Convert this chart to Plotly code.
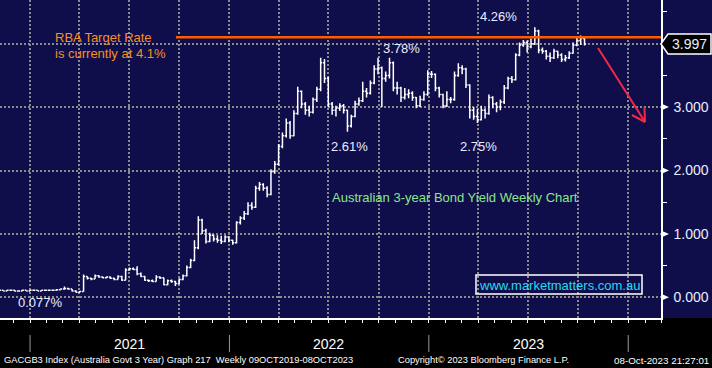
import pandas as pd
import plotly.graph_objects as go

# ---------------- data (weekly OHLC, Australian 3-year govt bond yield) -------------
dates = pd.date_range("2020-11-06", periods=154, freq="7D")

opens = [0.11,0.11,0.10,0.11,0.11,0.10,0.10,0.11,0.10,0.11,0.11,0.10,0.11,0.11,0.11,0.11,0.12,0.13,0.14,0.13,
         0.10,0.08,0.09,0.33,0.30,0.29,0.34,0.32,0.31,0.32,0.30,0.28,0.33,0.27,0.43,0.45,0.44,0.37,0.33,0.27,
         0.26,0.25,0.32,0.31,0.20,0.26,0.25,0.22,0.28,0.34,0.47,0.58,0.78,1.22,1.05,0.88,0.98,0.92,0.90,0.88,
         0.95,0.90,0.86,1.18,1.25,1.32,1.45,1.42,1.72,1.78,1.72,1.62,1.98,2.10,2.38,2.55,2.75,2.55,2.90,3.25,
         3.05,2.95,2.92,3.12,3.28,3.70,3.45,3.05,2.95,2.98,3.02,2.95,2.70,2.85,3.05,3.10,3.25,3.22,3.38,3.60,
         3.62,3.45,3.50,3.70,3.30,3.30,3.15,3.20,3.22,3.15,3.02,3.12,3.20,3.52,3.52,3.30,3.20,3.02,3.12,3.12,
         3.50,3.62,3.60,3.35,2.95,2.85,2.80,2.95,2.90,3.15,3.05,3.00,3.08,3.30,3.45,3.43,3.82,3.98,4.02,3.95,
         4.00,4.20,3.90,3.88,3.80,3.78,3.88,3.82,3.75,3.78,3.85,3.98,4.05,4.08]
highs = [0.12,0.11,0.12,0.12,0.11,0.11,0.12,0.11,0.12,0.11,0.11,0.11,0.12,0.11,0.12,0.13,0.14,0.17,0.15,0.13,
         0.11,0.10,0.36,0.33,0.31,0.36,0.35,0.33,0.33,0.33,0.31,0.35,0.34,0.46,0.47,0.47,0.49,0.39,0.34,0.28,
         0.28,0.35,0.33,0.31,0.28,0.28,0.26,0.30,0.36,0.50,0.61,0.90,1.28,1.24,1.08,1.02,0.99,0.98,0.97,0.98,
         0.96,0.91,1.20,1.28,1.36,1.50,1.50,1.76,1.82,1.80,1.75,2.02,2.15,2.42,2.60,2.82,2.78,2.95,3.32,3.26,
         3.08,3.02,3.15,3.32,3.78,3.76,3.48,3.08,3.02,3.06,3.05,2.96,2.88,3.10,3.15,3.40,3.30,3.42,3.66,3.78,
         3.64,3.56,3.78,3.72,3.40,3.32,3.30,3.28,3.25,3.16,3.18,3.25,3.58,3.57,3.53,3.32,3.21,3.25,3.16,3.56,
         3.69,3.66,3.62,3.36,3.00,2.97,3.02,2.98,3.20,3.17,3.08,3.12,3.35,3.48,3.49,3.85,4.02,4.06,4.05,4.08,
         4.26,4.22,3.94,3.90,3.86,3.92,3.89,3.85,3.82,3.88,4.02,4.10,4.13,4.10]
lows = [0.10,0.10,0.10,0.10,0.09,0.10,0.10,0.10,0.10,0.10,0.10,0.10,0.10,0.10,0.11,0.11,0.12,0.12,0.12,0.09,
        0.077,0.08,0.09,0.28,0.27,0.29,0.31,0.30,0.30,0.29,0.27,0.28,0.26,0.27,0.42,0.43,0.35,0.32,0.26,0.24,
        0.24,0.25,0.29,0.19,0.19,0.23,0.18,0.21,0.27,0.33,0.46,0.57,0.76,1.00,0.85,0.87,0.88,0.86,0.84,0.87,
        0.87,0.83,0.85,1.15,1.22,1.30,1.38,1.41,1.68,1.68,1.58,1.61,1.95,2.08,2.35,2.52,2.50,2.54,2.88,2.98,
        2.88,2.85,2.90,3.08,3.25,3.38,3.00,2.88,2.85,2.94,2.90,2.61,2.68,2.84,3.02,3.08,3.15,3.20,3.36,3.52,
        3.00,3.40,3.45,3.25,3.20,3.08,3.12,3.14,3.10,2.98,3.00,3.10,3.18,3.46,3.25,3.15,2.98,3.00,3.06,3.10,
        3.48,3.52,3.30,2.82,2.80,2.75,2.79,2.82,2.88,2.98,2.92,2.95,3.05,3.28,3.38,3.42,3.80,3.95,3.86,3.93,
        3.98,3.85,3.84,3.75,3.71,3.76,3.77,3.71,3.72,3.76,3.84,3.96,3.98,3.97]
closes = [0.11,0.10,0.11,0.11,0.10,0.10,0.11,0.10,0.11,0.11,0.10,0.11,0.11,0.11,0.11,0.12,0.13,0.14,0.13,0.10,
          0.08,0.09,0.33,0.30,0.29,0.34,0.32,0.31,0.32,0.30,0.28,0.33,0.27,0.43,0.45,0.44,0.37,0.33,0.27,0.26,
          0.25,0.32,0.31,0.20,0.26,0.25,0.22,0.28,0.34,0.47,0.58,0.78,1.22,1.05,0.88,0.98,0.92,0.90,0.88,0.95,
          0.90,0.86,1.18,1.25,1.32,1.45,1.42,1.72,1.78,1.72,1.62,1.98,2.10,2.38,2.55,2.75,2.55,2.90,3.25,3.05,
          2.95,2.92,3.12,3.28,3.70,3.45,3.05,2.95,2.98,3.02,2.95,2.70,2.85,3.05,3.10,3.25,3.22,3.38,3.60,3.62,
          3.45,3.50,3.70,3.30,3.30,3.15,3.20,3.22,3.15,3.02,3.12,3.20,3.52,3.52,3.30,3.20,3.02,3.12,3.12,3.50,
          3.62,3.60,3.35,2.95,2.85,2.80,2.95,2.90,3.15,3.05,3.00,3.08,3.30,3.45,3.43,3.82,3.98,4.02,3.95,4.00,
          4.20,3.90,3.88,3.80,3.78,3.88,3.82,3.75,3.78,3.85,3.98,4.05,4.08,3.997]

y_tick_vals = [0, 1, 2, 3, 4]
y_tick_text = ["0.000", "1.000", "2.000", "3.000", ""]
last_value = 3.997
rba_rate = 4.1
year_labels = ["2021", "2022", "2023"]
peak_labels = [("4.26%", 498, 17), ("3.78%", 402, 49), ("2.61%", 349, 146), ("2.75%", 478, 146), ("0.077%", 40, 302)]

# ---------------- geometry helpers (pixel -> paper) -------------
W, H = 712, 368
PW, PH = 661, 318  # plot area size in px
def px(x):
    return x / PW
def py(y):
    return 1 - y / PH

NAVY = "#100d4b"
GRID = "#8c8c8c"
FONT = "Liberation Sans, Arial, sans-serif"
RED = "#f02a44"

fig = go.Figure()
fig.add_trace(go.Ohlc(
    x=dates, open=opens, high=highs, low=lows, close=closes,
    increasing=dict(line=dict(color="white", width=1.5)),
    decreasing=dict(line=dict(color="white", width=1.5)),
    tickwidth=0.4, hoverinfo="skip", showlegend=False,
))

shapes = []
# navy band right of plot area
shapes.append(dict(type="rect", xref="paper", yref="paper", x0=1, x1=W / PW + 0.01, y0=0, y1=1.01,
                   fillcolor=NAVY, line=dict(width=0), layer="below"))
# RBA line
shapes.append(dict(type="line", xref="x", yref="y", x0="2021-09-25", x1="2024-03-01", y0=rba_rate, y1=rba_rate,
                   line=dict(color="#ff5a00", width=2.5)))
# year separators
for d in ["2021-01-01", "2022-01-01", "2023-01-01", "2024-01-01"]:
    shapes.append(dict(type="line", xref="x", yref="paper", x0=d, x1=d, y0=py(335), y1=py(352),
                       line=dict(color="#9a9a9a", width=1)))
# triangles at major y ticks
for v in [0, 1, 2, 3]:
    shapes.append(dict(type="path", xref="paper", yref="y",
                       path=f"M {px(661)},{v + 0.055} L {px(661)},{v - 0.055} L {px(669)},{v} Z",
                       fillcolor="white", line=dict(width=0)))
# last value box
yt = (297.3 - 34) / 63.4
yb = (297.3 - 54) / 63.4
shapes.append(dict(type="path", xref="paper", yref="y",
                   path=(f"M {px(661)},{last_value} L {px(668)},{yt} L {px(711)},{yt} "
                         f"L {px(711)},{yb} L {px(668)},{yb} Z"),
                   fillcolor="black", line=dict(color="white", width=1.5)))
# website box
shapes.append(dict(type="rect", xref="paper", yref="paper", x0=px(476), x1=px(642), y0=py(294), y1=py(275),
                   line=dict(color="white", width=1.5), fillcolor="rgba(0,0,0,0)"))
# red arrow (shaft + open head)
for (x0, y0, x1, y1) in [(598, 48, 645, 122), (645, 122, 644.4, 107), (645, 122, 632, 115)]:
    shapes.append(dict(type="line", xref="paper", yref="paper", x0=px(x0), y0=py(y0), x1=px(x1), y1=py(y1),
                       line=dict(color=RED, width=2)))

ann = []
txt_col = "#e8eeff"
ann.append(dict(text="RBA Target Rate", x=px(53), y=py(38), xref="paper", yref="paper",
                xanchor="left", yanchor="middle", showarrow=False, font=dict(family=FONT, size=13, color="#f5901e")))
ann.append(dict(text="is currently at 4.1%", x=px(53), y=py(54), xref="paper", yref="paper",
                xanchor="left", yanchor="middle", showarrow=False, font=dict(family=FONT, size=13, color="#f5901e")))
for t, x, y in peak_labels:
    ann.append(dict(text=t, x=px(x), y=py(y), xref="paper", yref="paper", xanchor="center", yanchor="middle",
                    showarrow=False, font=dict(family=FONT, size=13, color=txt_col)))
ann.append(dict(text="Australian 3-year Bond Yield Weekly Chart", x=px(455), y=py(197), xref="paper", yref="paper",
                xanchor="center", yanchor="middle", showarrow=False, font=dict(family=FONT, size=13, color="#86e886")))
ann.append(dict(text="www.marketmatters.com.au", x=px(559), y=py(285), xref="paper", yref="paper",
                xanchor="center", yanchor="middle", showarrow=False, font=dict(family=FONT, size=13, color="#22dcf0")))
ann.append(dict(text=f"{last_value:.3f}", x=px(689), y=py(44), xref="paper", yref="paper",
                xanchor="center", yanchor="middle", showarrow=False, font=dict(family=FONT, size=14, color=txt_col)))
for lab, d in zip(year_labels, ["2021-07-02", "2022-07-02", "2023-07-02"]):
    ann.append(dict(text=lab, x=d, y=py(344), xref="x", yref="paper", xanchor="center", yanchor="middle",
                    showarrow=False, font=dict(family=FONT, size=14, color="white")))
ann.append(dict(text="GACGB3 Index (Australia Govt 3 Year) Graph 217  Weekly 09OCT2019-08OCT2023",
                x=px(2), y=py(360), xref="paper", yref="paper", xanchor="left", yanchor="middle",
                showarrow=False, font=dict(family=FONT, size=9.3, color="white")))
ann.append(dict(text="Copyright\u00a9 2023 Bloomberg Finance L.P.", x=px(396), y=py(360), xref="paper", yref="paper",
                xanchor="left", yanchor="middle", showarrow=False, font=dict(family=FONT, size=9.3, color="white")))
ann.append(dict(text="08-Oct-2023 21:27:01", x=px(711), y=py(360), xref="paper", yref="paper",
                xanchor="right", yanchor="middle", showarrow=False, font=dict(family=FONT, size=9.8, color="white")))

fig.update_layout(
    width=W, height=H, autosize=False,
    margin=dict(l=0, r=W - PW, t=0, b=H - PH, pad=0),
    paper_bgcolor="black", plot_bgcolor=NAVY,
    showlegend=False,
    shapes=shapes, annotations=ann,
    xaxis=dict(
        type="date", range=["2020-11-07", "2024-03-01"], rangeslider=dict(visible=False),
        showgrid=True, gridcolor=GRID, gridwidth=2, griddash="2px,2px",
        tick0="2021-01-01", dtick="M3", ticks="outside", ticklen=3, tickcolor="white", tickwidth=1,
        showticklabels=False, showline=True, linecolor="white", linewidth=1.5, zeroline=False,
        minor=dict(dtick="M1", tick0="2021-01-01", ticks="outside", ticklen=3, tickcolor="white",
                   tickwidth=1, showgrid=False),
        fixedrange=True,
    ),
    yaxis=dict(
        side="right", range=[-0.326, 4.689], tickmode="array", tickvals=y_tick_vals, ticktext=y_tick_text,
        showgrid=True, gridcolor=GRID, gridwidth=2, griddash="2px,2px", ticks="",
        showline=True, linecolor="white", linewidth=1.5, zeroline=False,
        tickfont=dict(family=FONT, size=14, color=txt_col), ticklabelstandoff=8,
        minor=dict(tickmode="linear", tick0=0, dtick=0.5, ticks="outside", ticklen=4, tickcolor="white",
                   tickwidth=1, showgrid=False),
        fixedrange=True,
    ),
)

fig.write_html("out.html", config={"displayModeBar": False},
               post_script="document.body.style.margin='0';document.body.style.overflow='hidden';")
